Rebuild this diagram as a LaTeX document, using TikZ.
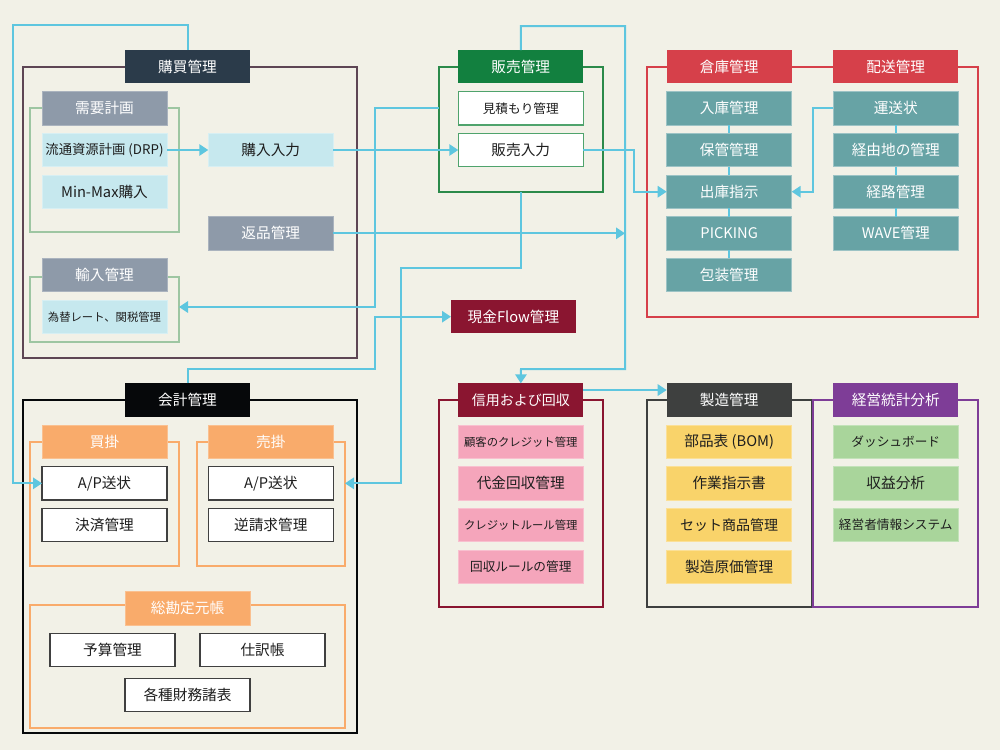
\documentclass[tikz,border=0pt]{standalone}
\usepackage{fontspec}
\setmainfont{Noto Sans CJK JP}
\usetikzlibrary{arrows.meta}

\definecolor{bg}{HTML}{F2F1E7}
\definecolor{cy}{HTML}{5EC6DF}
\definecolor{navy}{HTML}{2B3B4A}
\definecolor{mauve}{HTML}{5E4654}
\definecolor{slate}{HTML}{8E9AA9}
\definecolor{ice}{HTML}{C6E8EE}
\definecolor{sage}{HTML}{9EC6A2}
\definecolor{leaf}{HTML}{12803F}
\definecolor{leafline}{HTML}{2B8A4A}
\definecolor{leafbox}{HTML}{4FA36C}
\definecolor{brick}{HTML}{D6404A}
\definecolor{teal}{HTML}{67A3A5}
\definecolor{wine}{HTML}{8A1530}
\definecolor{rose}{HTML}{F5A5BB}
\definecolor{coal}{HTML}{3E403F}
\definecolor{honey}{HTML}{F9D36A}
\definecolor{plum}{HTML}{7E3D97}
\definecolor{mint}{HTML}{A9D59B}
\definecolor{peach}{HTML}{F9AB6B}
\definecolor{ink}{HTML}{06080A}
\definecolor{txt}{HTML}{1E1E1E}

% a frame: name, x1, y1, x2, y2, colour (pixel units)
\newcommand\frbox[6]{%
  \node[frame, draw=#6, minimum width={(#4-#2)*0.75pt},
        minimum height={(#5-#3)*0.75pt}] (#1) at ({(#2+#4)/2},{(#3+#5)/2}) {};}

\begin{document}
\begin{tikzpicture}[x=0.75pt,y=-0.75pt,
  frame/.style={line width=1.1pt, inner sep=0pt, outer sep=0pt},
  cell/.style={minimum width=93.75pt, minimum height=25pt, inner sep=0pt,
               outer sep=0pt, font=\fontsize{11}{13}\selectfont},
  hdr/.style={cell, text=white},
  lt/.style={cell, text=txt},
  icebox/.style={lt, fill=ice, draw=ice!70!white, line width=0.6pt},
  slatebox/.style={hdr, fill=slate, draw=slate!75!white, line width=0.6pt},
  tealbox/.style={hdr, fill=teal, draw=teal!65!white, line width=0.6pt},
  rosebox/.style={lt, fill=rose, draw=rose!70!white, line width=0.6pt},
  honeybox/.style={lt, fill=honey, draw=honey!70!white, line width=0.6pt},
  mintbox/.style={lt, fill=mint, draw=mint!70!white, line width=0.6pt},
  whitebox/.style={lt, fill=white, draw=txt!85, line width=0.8pt},
  greenbox/.style={lt, fill=white, draw=leafbox, line width=0.8pt},
  peachbox/.style={hdr, fill=peach, draw=peach!75!white, line width=0.6pt},
  small/.style={font=\fontsize{#1}{12}\selectfont},
  link/.style={draw=cy, line width=1.5pt},
  arr/.style={link, -{Triangle[length=6.75pt,width=8.5pt]}},
]
\fill[bg] (0,0) rectangle (1000,750);
\useasboundingbox (0,0) rectangle (1000,750);

% ---------- frames ----------
\frbox{fKobai}{23}{67}{357}{358}{mauve}
\frbox{fJuyo}{30}{108}{179}{232}{sage}
\frbox{fYunyu}{30}{277}{179}{342}{sage}
\frbox{fHanbai}{439}{67}{603}{192}{leafline}
\frbox{fSoko}{647}{67}{978}{317}{brick}
\frbox{fShinyo}{439}{400}{603}{607}{wine}
\frbox{fSeizo}{647}{400}{812}{607}{coal}
\frbox{fKeiei}{813}{400}{978}{607}{plum}
\frbox{fKaikei}{23}{400}{357}{733}{ink}
\frbox{fKaikake}{30}{442}{179}{566}{peach}
\frbox{fUrikake}{197}{442}{345}{566}{peach}
\frbox{fSokanjo}{30}{605}{345}{728}{peach}

% ---------- purchasing ----------
\node[hdr, fill=navy] (kobaiH) at (187.5,66.7) {購買管理};
\node[slatebox] (juyoH) at (104.5,108.3) {需要計画};
\node[icebox, small=10] (drp) at (104.5,150) {流通資源計画 (DRP)};
\node[icebox] (minmax) at (104.5,191.7) {Min-Max購入};
\node[icebox] (konyu) at (270.8,150) {購入入力};
\node[slatebox] (henpin) at (270.8,233.3) {返品管理};
\node[slatebox] (yunyuH) at (104.5,275) {輸入管理};
\node[icebox, small=8.5] (kawase) at (104.5,316.7) {為替レート、関税管理};

% ---------- sales ----------
\node[hdr, fill=leaf] (hanbaiH) at (520.8,66.7) {販売管理};
\node[greenbox, small=9.5] (mitsumori) at (520.8,108.3) {見積もり管理};
\node[greenbox] (hanbaiIn) at (520.8,150) {販売入力};

% ---------- warehouse ----------
\node[hdr, fill=brick] (sokoH) at (729.2,66.7) {倉庫管理};
\node[tealbox] (nyuko) at (729.2,108.3) {入庫管理};
\node[tealbox] (hokan) at (729.2,150) {保管管理};
\node[tealbox] (shukko) at (729.2,191.7) {出庫指示};
\node[tealbox] (picking) at (729.2,233.3) {PICKING};
\node[tealbox] (hoso) at (729.2,275) {包装管理};

% ---------- delivery ----------
\node[hdr, fill=brick] (haisoH) at (895.8,66.7) {配送管理};
\node[tealbox] (unso) at (895.8,108.3) {運送状};
\node[tealbox] (keiyu) at (895.8,150) {経由地の管理};
\node[tealbox] (keiro) at (895.8,191.7) {経路管理};
\node[tealbox] (wave) at (895.8,233.3) {WAVE管理};

% ---------- cash flow ----------
\node[hdr, fill=wine] (cash) at (513.5,316.7) {現金Flow管理};

% ---------- credit ----------
\node[hdr, fill=wine, small=10.5] (shinyoH) at (520.8,400) {信用および回収};
\node[rosebox, small=8.5] (kokyaku) at (520.8,441.7) {顧客のクレジット管理};
\node[rosebox] (daikin) at (520.8,483.3) {代金回収管理};
\node[rosebox, small=8.5] (crule) at (520.8,525) {クレジットルール管理};
\node[rosebox, small=9.5] (kaishu) at (520.8,566.7) {回収ルールの管理};

% ---------- manufacturing ----------
\node[hdr, fill=coal] (seizoH) at (729.2,400) {製造管理};
\node[honeybox] (bom) at (729.2,441.7) {部品表 (BOM)};
\node[honeybox] (sagyo) at (729.2,483.3) {作業指示書};
\node[honeybox, small=10.5] (set) at (729.2,525) {セット商品管理};
\node[honeybox] (genka) at (729.2,566.7) {製造原価管理};

% ---------- analytics ----------
\node[hdr, fill=plum] (keieiH) at (895.8,400) {経営統計分析};
\node[mintbox, small=9.5] (dash) at (895.8,441.7) {ダッシュボード};
\node[mintbox] (shueki) at (895.8,483.3) {収益分析};
\node[mintbox, small=9.5] (mis) at (895.8,525) {経営者情報システム};

% ---------- accounting ----------
\node[hdr, fill=ink] (kaikeiH) at (187.5,400) {会計管理};
\node[peachbox] (kaikakeH) at (104.5,441.7) {買掛};
\node[whitebox] (apA) at (104.5,483.3) {A/P送状};
\node[whitebox] (kessai) at (104.5,525) {決済管理};
\node[peachbox] (urikakeH) at (270.8,441.7) {売掛};
\node[whitebox] (apB) at (270.8,483.3) {A/P送状};
\node[whitebox] (gyaku) at (270.8,525) {逆請求管理};
\node[peachbox] (sokanjoH) at (187.5,608.3) {総勘定元帳};
\node[whitebox] (yosan) at (112.5,650) {予算管理};
\node[whitebox] (shiwake) at (262.5,650) {仕訳帳};
\node[whitebox] (zaimu) at (187.5,695) {各種財務諸表};

% ---------- links inside the columns ----------
\foreach \a/\b in {nyuko/hokan, hokan/shukko, shukko/picking, picking/hoso,
                   unso/keiyu, keiyu/keiro, keiro/wave}
  \draw[draw=cy, line width=1.1pt] (\a.south) -- (\b.north);

% ---------- connectors ----------
\coordinate (bus) at (625,233.3);
\draw[arr] (drp.east) -- (konyu.west);
\draw[arr] (konyu.east) -- (hanbaiIn.west);
\draw[arr] (henpin.east) -- (bus);
\draw[arr] (hanbaiIn.east) -| (634,170) |- (shukko.west);
\draw[arr] (unso.west) -| (813,150) |- (shukko.east);
\draw[arr] (fHanbai.west |- mitsumori) -| (375,250) |- (fYunyu.east |- 0,307);
\draw[arr] (fHanbai.south) |- (401,268) |- (fUrikake.east |- apB);
\draw[arr] (kaikeiH.north) |- (375,369) |- (cash.west);
\draw[arr] (kobaiH.north) |- (13,25) |- (apA.west);
\draw[arr] (hanbaiH.north) |- (625,26) |- (521,369) -- (shinyoH.north);
\draw[arr] ([yshift=7.5pt]shinyoH.east) -- ([yshift=7.5pt]seizoH.west);
\end{tikzpicture}
\end{document}
